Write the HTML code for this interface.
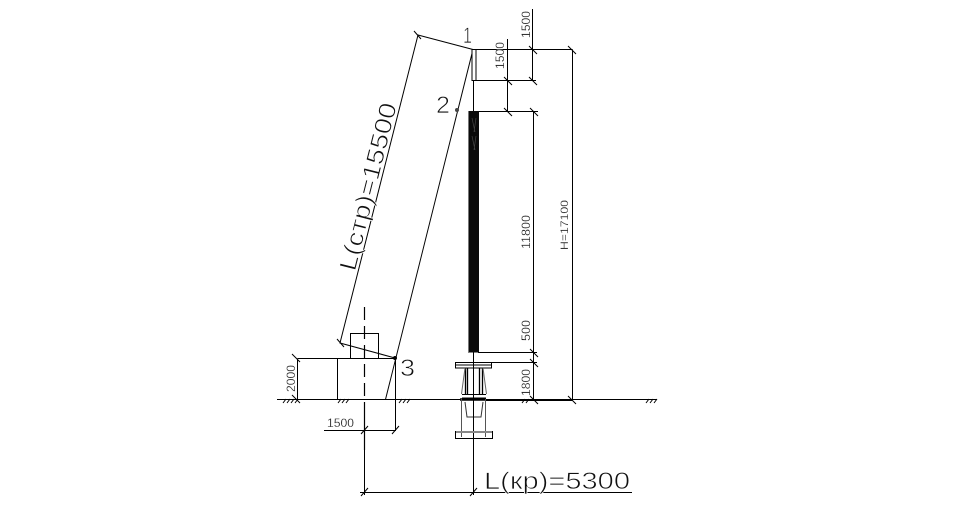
<!DOCTYPE html>
<html><head><meta charset="utf-8"><style>
html,body{margin:0;padding:0;background:#fff;width:980px;height:510px;overflow:hidden}
svg{display:block}
text{font-family:"Liberation Sans","DejaVu Sans",sans-serif;fill:#111}
.big{stroke:#fff;stroke-width:.7px}
.small{stroke:#fff;stroke-width:.2px}
</style></head><body>
<svg width="980" height="510" viewBox="0 0 980 510" xmlns="http://www.w3.org/2000/svg">
<g stroke="#000" stroke-width="1" fill="none">
<!-- ground -->
<path d="M277 399.500H657"/>
<path d="M283 403l3-4M287 403l3-4M291 403l3-4M295 403l3-4M338 403l3-4M342 403l3-4M346 403l3-4M399 403l3-4M403 403l3-4M407 403l3-4M522 403l3-4M526 403l3-4M646 403l3-4M650 403l3-4M654 403l3-4"/>
<!-- foundation -->
<path d="M297.500 358.500H395.500V430M297.500 358.500V399.500M337.500 358.500V399.500"/>
<path d="M350.500 358V333.500H378.500V358"/>
<path d="M364.500 307V320M364.500 326V339M364.500 345V358M364.500 364V377M364.500 383V396M364.500 402V450" stroke-width="1.200"/>
<!-- strut -->
<path d="M385.500 399.500L473 49.500"/>
<path d="M395 358L340 343L418 35L473 49.500"/>
<path d="M337 339l7 8M414 31l7 8M292 354l8 8M292 395l8 8"/>
<circle cx="395" cy="358" r="1.500" fill="#000"/>
<circle cx="457" cy="110" r="2" fill="#444" stroke="none"/>
<!-- mast -->
<path d="M473.500 49V470"/>
<path d="M472 49.500V80.500H476V49.500Z" fill="#fff"/>
<path d="M473.500 49.500H572.500M473.500 80.500H536M478 111.500H538M478 352.500H537M492 362.500H537"/>
<path d="M507.500 39V111.500M532.500 9V80.500M533.500 111.500V399.500M572.500 49.500V400"/>
<path d="M529 46l8 8M568 46l8 8M504 77l8 8M529 77l8 8M504 108l8 8M530 108l8 8M530 349l8 8M530 359l8 8M530 396l8 8M568 396l8 8"/>
<rect x="468" y="111" width="11" height="241.500" fill="#0a0a0a" stroke="none"/>
<path d="M468.500 111V352" stroke="#777"/>
<path d="M472 118l3 14M476 118l-2 14M472 136l3 14M476 136l-2 14" stroke="#444" stroke-width=".7"/>
<!-- footing assembly -->
<rect x="455.500" y="362.500" width="36" height="5.500"/>
<path d="M456 365H491"/>
<path d="M465.500 368V394M467.500 368V394M479.500 368V394M482.500 368V394" stroke-width="1.300"/>
<path d="M465 368L461.500 394M483 368L486.500 394" stroke="#666"/>
<path d="M462 394.500H486M462 398H486"/>
<path d="M460 399.500H486" stroke-width="2.500"/>
<path d="M461.500 399V437M485.500 399V437" stroke="#555"/>
<path d="M465 402L467 417H481L483 402" stroke="#333"/>
<path d="M473.500 400V449"/>
<rect x="455.500" y="431.500" width="37" height="7"/>
<path d="M456 432H492" stroke="#888" stroke-width="2"/>
<path d="M486 400H572" stroke-width="2"/>
<!-- bottom dims -->
<path d="M324 430.500H396M361 434l7-8M392 434l7-8"/>
<path d="M364.500 450V495M473.500 450V495M360 492.500H632M361 496l7-8M470 496l7-8"/>
</g>
<text class="small" x="327" y="427" font-size="12" textLength="27" lengthAdjust="spacingAndGlyphs">1500</text>
<text class="small" transform="translate(530 38) rotate(-90)" font-size="12" textLength="27" lengthAdjust="spacingAndGlyphs">1500</text>
<text class="small" transform="translate(504 69) rotate(-90)" font-size="12" textLength="27" lengthAdjust="spacingAndGlyphs">1500</text>
<text class="small" transform="translate(530 249) rotate(-90)" font-size="12" textLength="34" lengthAdjust="spacingAndGlyphs">11800</text>
<text class="small" transform="translate(530 341) rotate(-90)" font-size="12" textLength="21" lengthAdjust="spacingAndGlyphs">500</text>
<text class="small" transform="translate(530 396) rotate(-90)" font-size="12" textLength="27" lengthAdjust="spacingAndGlyphs">1800</text>
<text class="small" transform="translate(568 250) rotate(-90)" font-size="11" textLength="50" lengthAdjust="spacingAndGlyphs">H=17100</text>
<text class="small" transform="translate(295 392) rotate(-90)" font-size="12" textLength="27" lengthAdjust="spacingAndGlyphs">2000</text>
<text class="big" x="463" y="43" font-size="22" textLength="9" lengthAdjust="spacingAndGlyphs">1</text>
<text class="big" x="436" y="113" font-size="24" textLength="14" lengthAdjust="spacingAndGlyphs">2</text>
<text class="big" x="400" y="376" font-size="24" textLength="15" lengthAdjust="spacingAndGlyphs">3</text>
<text class="big" transform="translate(355 272) rotate(-75.900)" font-size="24" textLength="172" lengthAdjust="spacingAndGlyphs">L(стр)=15500</text>
<text class="big" x="484" y="489" font-size="24" textLength="146" lengthAdjust="spacingAndGlyphs">L(кр)=5300</text>
</svg>
</body></html>
